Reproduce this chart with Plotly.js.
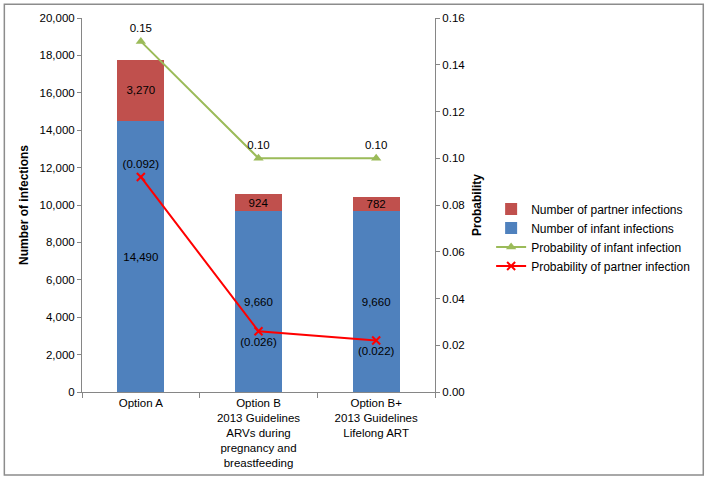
<!DOCTYPE html>
<html>
<head>
<meta charset="utf-8">
<script src="https://cdn.plot.ly/plotly-3.0.1.min.js"></script>
<style>
  body { margin: 0; background: #fff; }
  #chart { width: 705px; height: 479px; }
</style>
</head>
<body>
<div id="chart"></div>
<script>
const options = [
  "Option A",
  "Option B<br>2013 Guidelines<br>ARVs during<br>pregnancy and<br>breastfeeding",
  "Option B+<br>2013 Guidelines<br>Lifelong ART",
];
const infantInfections = [14490, 9660, 9660];
const partnerInfections = [3270, 924, 782];
const probInfant = [0.15, 0.10, 0.10];
const probPartner = [0.092, 0.026, 0.022];

const font = { family: "Liberation Sans, Arial, sans-serif", size: 11.5, color: "#000" };

// shared look for the three axes
const axisStyle = {
  showline: true,
  linecolor: "#868686",
  ticks: "outside",
  ticklen: 4,
  tickcolor: "#868686",
  showgrid: false,
  zeroline: false,
};

const data = [
  {
    x: options,
    y: infantInfections,
    type: "bar",
    name: "Number of infant infections",
    marker: { color: "#4f81bd" },
    texttemplate: "%{y:,}",
    textposition: "inside",
    insidetextanchor: "middle",
    constraintext: "none",
    textfont: { size: 11.5, color: "#000" },
    legendrank: 2,
  },
  {
    x: options,
    y: partnerInfections,
    type: "bar",
    name: "Number of partner infections",
    marker: { color: "#c0504d" },
    texttemplate: "%{y:,}",
    textposition: "inside",
    insidetextanchor: "middle",
    constraintext: "none",
    textfont: { size: 11.5, color: "#000" },
    legendrank: 1,
  },
  {
    x: options,
    y: probInfant,
    yaxis: "y2",
    type: "scatter",
    mode: "lines+markers+text",
    name: "Probability of infant infection",
    line: { color: "#9bbb59", width: 2 },
    marker: { symbol: "triangle-up", size: 9, color: "#9bbb59" },
    text: probInfant.map((v) => v.toFixed(2)),
    textposition: "top center",
    textfont: { size: 11.5, color: "#000" },
    legendrank: 3,
  },
  {
    x: options,
    y: probPartner,
    yaxis: "y2",
    type: "scatter",
    mode: "lines+markers+text",
    name: "Probability of partner infection",
    line: { color: "#ff0000", width: 2 },
    marker: { symbol: "x-thin-open", size: 8, color: "#ff0000", line: { width: 2, color: "#ff0000" } },
    text: probPartner.map((v) => "(" + v.toFixed(3) + ")"),
    textposition: ["top center", "bottom center", "bottom center"],
    textfont: { size: 11.5, color: "#000" },
    legendrank: 4,
  },
];

const layout = {
  width: 705,
  height: 479,
  margin: { l: 82, r: 270, t: 18, b: 87, autoexpand: false },
  paper_bgcolor: "#fff",
  plot_bgcolor: "#fff",
  font: font,
  barmode: "stack",
  bargap: 0.6,
  showlegend: true,
  legend: {
    x: 1.159,
    y: 0.413,
    xanchor: "left",
    yanchor: "middle",
    traceorder: "normal",
    itemwidth: 30,
    font: { size: 12 },
    bgcolor: "rgba(0,0,0,0)",
  },
  xaxis: {
    ...axisStyle,
    type: "category",
    tickson: "boundaries",
    ticklen: 5,
    tickfont: { size: 11.5 },
  },
  yaxis: {
    ...axisStyle,
    range: [0, 20000],
    dtick: 2000,
    tickformat: ",",
    title: { text: "<b>Number of infections</b>", font: { size: 12 }, standoff: 8 },
  },
  yaxis2: {
    ...axisStyle,
    overlaying: "y",
    side: "right",
    range: [0, 0.16],
    dtick: 0.02,
    tickformat: ".2f",
    title: { text: "<b>Probability</b>", font: { size: 12 }, standoff: 8 },
  },
  shapes: [
    {
      type: "rect",
      xref: "paper",
      yref: "paper",
      x0: -0.22,
      x1: 1.76,
      y0: -0.222,
      y1: 1.037,
      line: { color: "#8c8c8c", width: 1.5 },
      layer: "below",
    },
  ],
};

Plotly.newPlot("chart", data, layout, { displayModeBar: false, staticPlot: true });
</script>
</body>
</html>
